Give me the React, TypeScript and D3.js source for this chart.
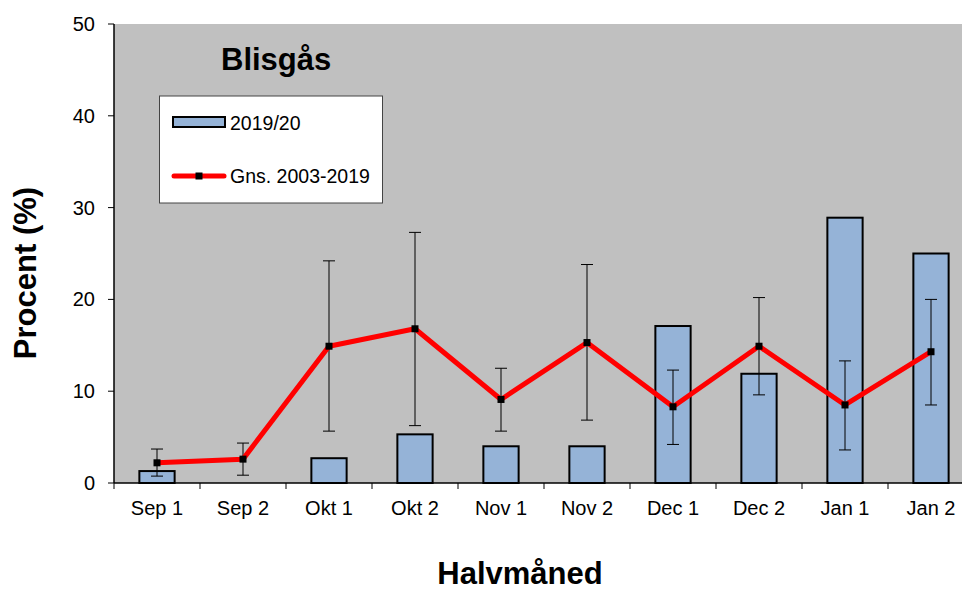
import React from "react";
import * as d3 from "d3";

const categories = ["Sep 1", "Sep 2", "Okt 1", "Okt 2", "Nov 1", "Nov 2", "Dec 1", "Dec 2", "Jan 1", "Jan 2"];
const season2019: (number | null)[] = [1.3, null, 2.7, 5.3, 4.0, 4.0, 17.1, 11.9, 28.9, 25.0];
const average: number[] = [2.2, 2.6, 14.9, 16.8, 9.1, 15.3, 8.3, 14.9, 8.5, 14.3];
const errUpper: number[] = [3.7, 4.35, 24.2, 27.3, 12.5, 23.8, 12.3, 20.2, 13.3, 20.0];
const errLower: number[] = [0.75, 0.85, 5.65, 6.25, 5.65, 6.85, 4.2, 9.6, 3.6, 8.5];
const yTicks = [0, 10, 20, 30, 40, 50];

const W = 962;
const H = 592;
const left = 114;
const right = 974;
const top = 24;
const bottom = 483;
const FONT = "'Liberation Sans', Arial, sans-serif";

export default function App() {
  const x = d3.scaleBand<string>().domain(categories).range([left, right]).paddingInner(0).paddingOuter(0);
  const y = d3.scaleLinear().domain([0, 50]).range([bottom, top]);
  const bw = x.bandwidth();
  const barW = bw * 0.41;
  const cx = (c: string) => (x(c) as number) + bw / 2;

  const line = d3
    .line<number>()
    .x((_, i) => cx(categories[i]))
    .y((d) => y(d));

  const boundaries = d3.range(categories.length + 1).map((i) => left + i * bw);

  return (
    <svg
      width={W}
      height={H}
      style={{ position: "absolute", left: 0, top: 0, display: "block", background: "#fff" }}
      fontFamily={FONT}
    >
      <rect x={left} y={top} width={right - left} height={bottom - top} fill="#C0C0C0" />

      {/* bars */}
      {categories.map((c, i) =>
        season2019[i] == null ? null : (
          <rect
            key={"b" + c}
            x={cx(c) - barW / 2}
            y={y(season2019[i] as number)}
            width={barW}
            height={bottom - y(season2019[i] as number)}
            fill="#95B3D7"
            stroke="#000"
            strokeWidth={2}
          />
        )
      )}

      {/* error bars */}
      {categories.map((c, i) => (
        <g key={"e" + c} stroke="#000" strokeWidth={1}>
          <line x1={cx(c)} x2={cx(c)} y1={y(errUpper[i])} y2={y(errLower[i])} />
          <line x1={cx(c) - 6} x2={cx(c) + 6} y1={y(errUpper[i])} y2={y(errUpper[i])} />
          <line x1={cx(c) - 6} x2={cx(c) + 6} y1={y(errLower[i])} y2={y(errLower[i])} />
        </g>
      ))}

      {/* average line */}
      <path d={line(average) as string} fill="none" stroke="#FF0000" strokeWidth={5} strokeLinejoin="round" />
      {categories.map((c, i) => (
        <rect key={"m" + c} x={cx(c) - 3.5} y={y(average[i]) - 3.5} width={7} height={7} fill="#000" />
      ))}

      {/* axes */}
      <line x1={left} x2={left} y1={top} y2={bottom} stroke="#000" strokeWidth={1.5} />
      <line x1={left} x2={right} y1={bottom} y2={bottom} stroke="#000" strokeWidth={1.5} />
      {yTicks.map((t) => (
        <g key={"yt" + t}>
          <line x1={left - 6} x2={left} y1={y(t)} y2={y(t)} stroke="#000" strokeWidth={1} />
          <text x={95} y={y(t)} dy="0.35em" textAnchor="end" fontSize={20} fill="#000">
            {t}
          </text>
        </g>
      ))}
      {boundaries.map((b, i) => (
        <line key={"xt" + i} x1={b} x2={b} y1={bottom} y2={bottom + 6} stroke="#000" strokeWidth={1} />
      ))}
      {categories.map((c) => (
        <text key={"xl" + c} x={cx(c)} y={515} textAnchor="middle" fontSize={20} fill="#000">
          {c}
        </text>
      ))}

      {/* axis titles */}
      <text
        transform={`translate(36,273) rotate(-90)`}
        textAnchor="middle"
        fontSize={31}
        fontWeight="bold"
        fill="#000"
      >
        Procent (%)
      </text>
      <text x={520} y={584} textAnchor="middle" fontSize={31} fontWeight="bold" fill="#000">
        Halvmåned
      </text>

      {/* title */}
      <text x={221} y={70} fontSize={31} fontWeight="bold" fill="#000">
        Blisgås
      </text>

      {/* legend */}
      <rect x={159.5} y={96} width={223} height={107} fill="#fff" stroke="#444" strokeWidth={1} />
      <rect x={173} y={117} width={52} height={10} fill="#95B3D7" stroke="#000" strokeWidth={2} />
      <text x={230} y={129.5} fontSize={19.5} fill="#000">
        2019/20
      </text>
      <line x1={174} x2={224} y1={176} y2={176} stroke="#FF0000" strokeWidth={5} strokeLinecap="round" />
      <rect x={195.5} y={172.5} width={7} height={7} fill="#000" />
      <text x={230} y={183} fontSize={19.5} fill="#000">
        Gns. 2003-2019
      </text>
    </svg>
  );
}
